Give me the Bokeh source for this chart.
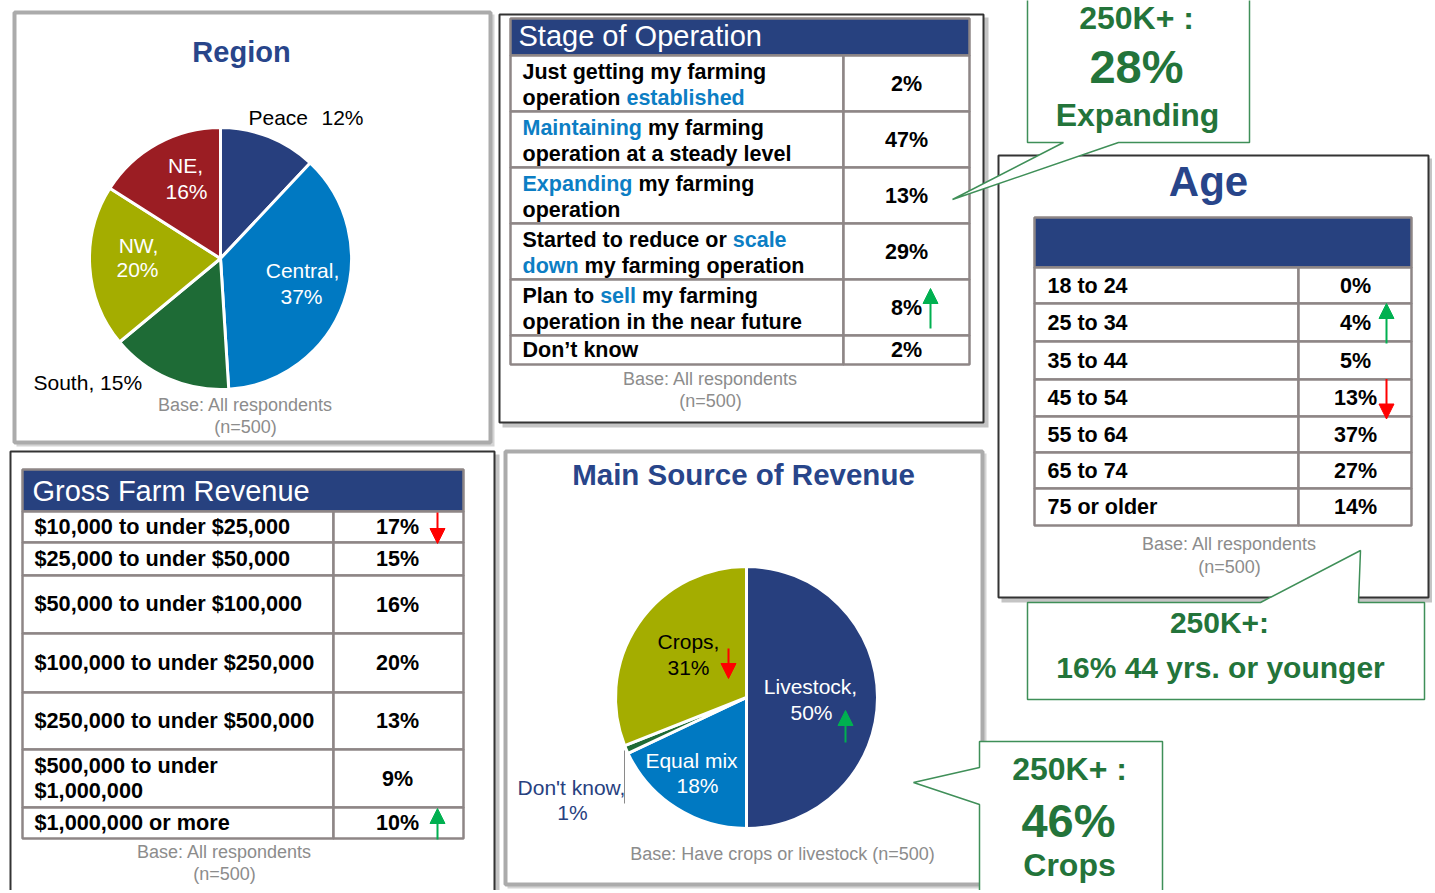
import numpy as np
from bokeh.plotting import figure
from bokeh.models import Range1d, Arrow, NormalHead
from bokeh.core.properties import value
from bokeh.embed import file_html
from bokeh.resources import INLINE

# ---------------- data ----------------
region_labels = ["Peace", "Central", "South", "NW", "NE"]
region_pct = [12, 37, 15, 20, 16]

stage_rows = [
    [[("Just getting my farming", False)], [("operation ", False), ("established", True)]],
    [[("Maintaining", True), (" my farming", False)], [("operation at a steady level", False)]],
    [[("Expanding", True), (" my farming", False)], [("operation", False)]],
    [[("Started to reduce or ", False), ("scale", True)], [("down", True), (" my farming operation", False)]],
    [[("Plan to ", False), ("sell", True), (" my farming", False)], [("operation in the near future", False)]],
    [[("Don\u2019t know", False)]],
]
stage_pct = [2, 47, 13, 29, 8, 2]
stage_trend = ["", "", "", "", "up", ""]

age_labels = ["18 to 24", "25 to 34", "35 to 44", "45 to 54", "55 to 64", "65 to 74", "75 or older"]
age_pct = [0, 4, 5, 13, 37, 27, 14]
age_trend = ["", "up", "", "down", "", "", ""]

revenue_labels = [["$10,000 to under $25,000"], ["$25,000 to under $50,000"],
                  ["$50,000 to under $100,000"], ["$100,000 to under $250,000"],
                  ["$250,000 to under $500,000"], ["$500,000 to under", "$1,000,000"],
                  ["$1,000,000 or more"]]
revenue_pct = [17, 15, 16, 20, 13, 9, 10]
revenue_trend = ["down", "", "", "", "", "", "up"]

source_labels = ["Livestock", "Equal mix", "Don't know", "Crops"]
source_pct = [50, 18, 1, 31]
source_trend = ["up", "", "", "down"]

callout_expanding = ["250K+ :", "28%", "Expanding"]
callout_age = ["250K+:", "16% 44 yrs. or younger"]
callout_crops = ["250K+ :", "46%", "Crops"]

base_all = ["Base: All respondents", "(n=500)"]
base_source = "Base: Have crops or livestock (n=500)"

# ---------------- style ----------------
FONT = "Liberation Sans"
NAVY = "#27417F"
TITLE = "#28458A"
BLUE_TXT = "#0C7EC4"
GRID = "#8E8686"
BASE_C = "#8C8C8C"
GREEN_T = "#23743A"
GREEN_L = "#3F8F58"
UP_C = "#00B050"
DOWN_C = "#FF0000"
region_colors = ["#273F7E", "#0079C2", "#1E6B36", "#A4AD00", "#9B1D23"]
source_colors = ["#273F7E", "#0079C2", "#1E6B36", "#A4AD00"]

# Arial/Liberation Sans Bold advance widths (per em) for segment placement
BW = dict(zip("abcdefghijklmnopqrstuvwxyz",
              [.556, .611, .556, .611, .556, .333, .611, .611, .278, .278, .556, .278, .889,
               .611, .611, .611, .611, .389, .556, .333, .611, .556, .778, .556, .556, .5]))
BW.update({" ": .278, "D": .722, "E": .667, "J": .556, "M": .833, "P": .667, "S": .667})


def bold_width(s, size):
    return sum(BW.get(ch, .6) for ch in s) * size


W, H = 1432, 890
p = figure(width=W, height=H, x_range=Range1d(0, W), y_range=Range1d(-H, 0),
           x_axis_type=None, y_axis_type=None, toolbar_location=None,
           output_backend="svg", min_border=0)
p.outline_line_color = None
p.grid.visible = False
p.background_fill_color = "white"


def text(x, y, s, size, color="#000000", bold=False, align="left"):
    # y is the desired baseline in picture pixels
    p.text(x=[x], y=[-(y - 0.37 * size)], text=[s], text_font=value(FONT),
           text_font_size=f"{size}px", text_color=color,
           text_font_style="bold" if bold else "normal",
           text_align=align, text_baseline="alphabetic")


def panel(l, t, r, b, dark):
    if dark:
        p.quad(left=[l + 3], right=[r + 5], top=[-(t + 3)], bottom=[-(b + 5)],
               fill_color="#C4C4C4", line_color=None)
        p.quad(left=[l], right=[r], top=[-t], bottom=[-b], fill_color="white",
               line_color="#333333", line_width=2)
    else:
        p.quad(left=[l + 2], right=[r + 4], top=[-(t + 2)], bottom=[-(b + 4)],
               fill_color="#D4D4D4", line_color=None)
        p.quad(left=[l], right=[r], top=[-t], bottom=[-b], fill_color="white",
               line_color="#ABABAB", line_width=4)


def table(left, div, right, head_top, head_bot, heights):
    p.quad(left=[left], right=[right], top=[-head_top], bottom=[-head_bot],
           fill_color=NAVY, line_color=GRID, line_width=2.5)
    edges = head_bot + np.concatenate([[0], np.cumsum(heights)])
    tops, bots = edges[:-1], edges[1:]
    n = len(heights)
    p.quad(left=[left] * n, right=[div] * n, top=-tops, bottom=-bots,
           fill_color="white", line_color=GRID, line_width=2.5)
    p.quad(left=[div] * n, right=[right] * n, top=-tops, bottom=-bots,
           fill_color="white", line_color=GRID, line_width=2.5)
    return (tops + bots) / 2


def arrow(x, y_tail, y_tip, col):
    p.add_layout(Arrow(x_start=x, y_start=-y_tail, x_end=x, y_end=-y_tip, line_color=col,
                       line_width=2,
                       end=NormalHead(size=15, fill_color=col, line_color=col, line_width=1)))


def trend_arrow(x, c, length, direction):
    mid = c + 1
    if direction == "up":
        arrow(x, mid + length / 2, mid - length / 2, UP_C)
    else:
        arrow(x, mid - length / 2, mid + length / 2, DOWN_C)


def pie(cx, cy, r, pcts, colors):
    cum = np.concatenate([[0], np.cumsum(pcts)]) / 100.0
    start = np.pi / 2 - 2 * np.pi * cum[:-1]
    end = np.pi / 2 - 2 * np.pi * cum[1:]
    n = len(pcts)
    p.wedge(x=[cx] * n, y=[-cy] * n, radius=r, start_angle=start, end_angle=end,
            direction="clock", fill_color=colors, line_color="white", line_width=3)


# ---------------- panels ----------------
panel(14, 12, 490, 442, False)       # Region
panel(499, 14, 983, 422, True)       # Stage
panel(998, 155, 1428, 597, True)     # Age
panel(10, 451, 494, 905, True)       # Gross farm revenue
panel(505, 451, 982, 884, False)     # Main source

# ---------------- Region ----------------
text(241, 62, "Region", 29, TITLE, bold=True, align="center")
pie(220, 258, 131, region_pct, region_colors)
text(248, 125, region_labels[0], 21)
text(321, 125, f"{region_pct[0]}%", 21)
text(302, 278, f"{region_labels[1]},", 21, "white", align="center")
text(301, 304, f"{region_pct[1]}%", 21, "white", align="center")
text(33, 390, f"{region_labels[2]}, {region_pct[2]}%", 21)
text(138, 253, f"{region_labels[3]},", 21, "white", align="center")
text(137, 277, f"{region_pct[3]}%", 21, "white", align="center")
text(185, 173, f"{region_labels[4]},", 21, "white", align="center")
text(186, 199, f"{region_pct[4]}%", 21, "white", align="center")
text(245, 411, base_all[0], 18, BASE_C, align="center")
text(245, 433, base_all[1], 18, BASE_C, align="center")

# ---------------- Stage of Operation ----------------
centers = table(510, 843, 969, 18, 55, [56, 56, 56, 56, 56, 29])
text(518, 46, "Stage of Operation", 29, "white")
for c, lines, v, tr in zip(centers, stage_rows, stage_pct, stage_trend):
    ys = [c - 4, c + 22.5] if len(lines) == 2 else [c + 8]
    for yy, segs in zip(ys, lines):
        cx = 522
        for s, hi in segs:
            lead = len(s) - len(s.lstrip(" "))
            text(cx + bold_width(" " * lead, 21.5), yy, s.strip(" "), 21.5,
                 BLUE_TXT if hi else "#000000", bold=True)
            cx += bold_width(s, 21.5)
    text(906, c + 8, f"{v}%", 21.5, bold=True, align="center")
    if tr:
        trend_arrow(930, c, 40, tr)
text(710, 385, base_all[0], 18, BASE_C, align="center")
text(710, 407, base_all[1], 18, BASE_C, align="center")

# ---------------- Age ----------------
text(1208, 197, "Age", 42, TITLE, bold=True, align="center")
centers = table(1034, 1298, 1411, 217, 267, [36, 38, 38, 37, 36, 36, 37])
for c, lab, v, tr in zip(centers, age_labels, age_pct, age_trend):
    text(1047, c + 8, lab, 21.5, bold=True)
    text(1355, c + 8, f"{v}%", 21.5, bold=True, align="center")
    if tr:
        trend_arrow(1386, c, 40, tr)
text(1229, 550, base_all[0], 18, BASE_C, align="center")
text(1229, 573, base_all[1], 18, BASE_C, align="center")

# ---------------- Gross Farm Revenue ----------------
centers = table(22, 333, 463, 469, 511, [31, 33, 58, 59, 57, 58, 31])
text(32, 501, "Gross Farm Revenue", 29, "white")
for c, lines, v, tr in zip(centers, revenue_labels, revenue_pct, revenue_trend):
    ys = [c - 5, c + 20] if len(lines) == 2 else [c + 7.5]
    for yy, s in zip(ys, lines):
        text(34, yy, s, 21.7, bold=True)
    text(397, c + 8, f"{v}%", 21.5, bold=True, align="center")
    if tr:
        trend_arrow(437, c, 31, tr)
text(224, 858, base_all[0], 18, BASE_C, align="center")
text(224, 880, base_all[1], 18, BASE_C, align="center")

# ---------------- Main Source of Revenue ----------------
text(743, 485, "Main Source of Revenue", 29.5, TITLE, bold=True, align="center")
pie(746, 697, 131, source_pct, source_colors)
text(810, 694, f"{source_labels[0]},", 21, "white", align="center")
text(811, 720, f"{source_pct[0]}%", 21, "white", align="center")
text(691, 768, source_labels[1], 21, "white", align="center")
text(697, 793, f"{source_pct[1]}%", 21, "white", align="center")
text(571, 795, f"{source_labels[2]},", 21, NAVY, align="center")
text(572, 820, f"{source_pct[2]}%", 21, NAVY, align="center")
text(688, 649, f"{source_labels[3]},", 21, align="center")
text(688, 675, f"{source_pct[3]}%", 21, align="center")
p.segment(x0=[624], y0=[-750], x1=[624], y1=[-803], line_color="#8A8A8A", line_width=1)
arrow(845, 742, 710, UP_C)      # livestock up
arrow(728, 648, 678, DOWN_C)    # crops down
text(782, 860, base_source, 18, BASE_C, align="center")

# ---------------- Callouts ----------------
def callout(xs, ys):
    p.patch(x=xs, y=[-v for v in ys], fill_color="white", line_color=GREEN_L, line_width=1.5)

callout([1027, 1249, 1249, 1118, 952, 1063, 1027], [-10, -10, 142, 142, 199, 142, 142])
text(1136, 29, callout_expanding[0], 32, GREEN_T, bold=True, align="center")
text(1136, 83, callout_expanding[1], 47, GREEN_T, bold=True, align="center")
text(1137, 126, callout_expanding[2], 32, GREEN_T, bold=True, align="center")

callout([1027, 1260, 1360, 1358, 1424, 1424, 1027], [602, 602, 550, 602, 602, 699, 699])
text(1219, 633, callout_age[0], 30, GREEN_T, bold=True, align="center")
text(1220, 678, callout_age[1], 30, GREEN_T, bold=True, align="center")

callout([979, 1162, 1162, 979, 979, 913, 979], [741, 741, 905, 905, 804, 782, 767])
text(1069, 780, callout_crops[0], 32, GREEN_T, bold=True, align="center")
text(1068, 837, callout_crops[1], 47, GREEN_T, bold=True, align="center")
text(1069, 876, callout_crops[2], 32, GREEN_T, bold=True, align="center")

open("out.html", "w").write(file_html(p, INLINE))
